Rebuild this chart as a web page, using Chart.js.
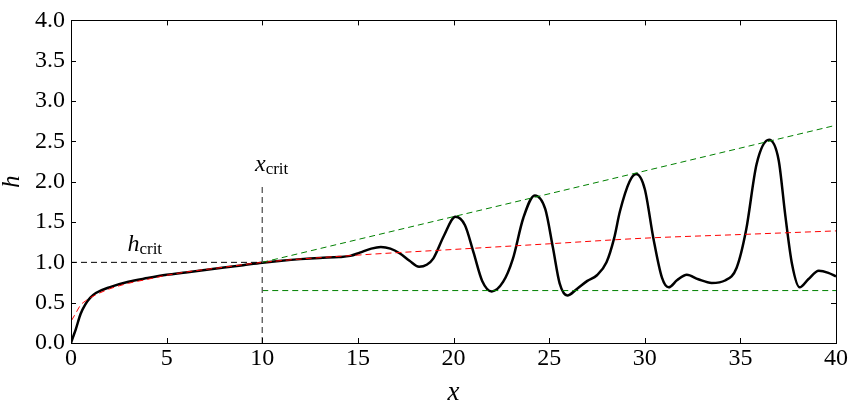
<!DOCTYPE html>
<html>
<head>
<meta charset="utf-8">
<script src="https://cdn.jsdelivr.net/npm/chart.js@4.4.1/dist/chart.umd.min.js"></script>
<style>
  html, body { margin: 0; padding: 0; background: #fff; }
  #wrap { width: 858px; height: 404px; position: relative; }
</style>
</head>
<body>
<div id="wrap"><canvas id="c" width="858" height="404"></canvas></div>
<script>
// ---- data ----
const solutionX = [0, 0.1, 0.25, 0.5, 0.75, 1, 1.3, 2, 3, 4, 5, 6, 7, 8, 9, 10, 11, 12, 13, 14, 14.6, 15.1, 15.7, 16.2, 16.7, 17.2, 17.7, 18.2, 18.6, 18.95, 19.5, 20.1, 20.6, 21.05, 21.5, 22.0, 22.6, 23.1, 23.65, 24.25, 24.8, 25.2, 25.55, 25.95, 26.45, 27.0, 27.5, 28.0, 28.4, 28.7, 29.2, 29.55, 30.0, 30.45, 30.9, 31.25, 31.7, 32.2, 32.8, 33.5, 34.2, 34.8, 35.3, 35.85, 36.5, 37.0, 37.35, 37.7, 38.1, 38.55, 39.1, 39.6, 40];
const solutionH = [0, 0.07, 0.17, 0.36, 0.48, 0.56, 0.62, 0.69, 0.76, 0.805, 0.845, 0.875, 0.905, 0.935, 0.965, 0.995, 1.02, 1.04, 1.055, 1.065, 1.08, 1.12, 1.17, 1.19, 1.17, 1.11, 1.02, 0.945, 0.97, 1.05, 1.33, 1.565, 1.46, 1.12, 0.77, 0.64, 0.76, 1.04, 1.55, 1.83, 1.66, 1.18, 0.74, 0.59, 0.67, 0.77, 0.84, 1.0, 1.3, 1.63, 2.0, 2.095, 1.91, 1.30, 0.81, 0.69, 0.78, 0.845, 0.79, 0.745, 0.775, 0.93, 1.4, 2.22, 2.52, 2.27, 1.58, 0.98, 0.69, 0.79, 0.895, 0.87, 0.825];

const approxX = [0.03, 0.25, 0.5, 0.75, 1, 1.5, 2, 3, 4, 5, 6, 8, 10, 15, 20, 25, 30, 35, 40];
const approxH = [0.28, 0.37, 0.47, 0.52, 0.56, 0.62, 0.67, 0.74, 0.79, 0.84, 0.88, 0.94, 1.0, 1.09, 1.16, 1.23, 1.30, 1.345, 1.39];

const envUpperX = [10, 40];
const envUpperH = [1.0, 2.7];
const envLowerX = [10, 40];
const envLowerH = [0.65, 0.65];
const hCritX = [0, 10];
const hCritH = [1.0, 1.0];
const xCritX = [10, 10];
const xCritH = [0, 1.97];

const xTicks = [0, 5, 10, 15, 20, 25, 30, 35, 40];
const yTicks = [0, 0.5, 1.0, 1.5, 2.0, 2.5, 3.0, 3.5, 4.0];

const labels = [
  { main: 'h', sub: 'crit', x: 2.95, y: 1.14 },
  { main: 'x', sub: 'crit', x: 9.62, y: 2.13 }
];

const pts = (xs, ys) => xs.map((x, i) => ({ x, y: ys[i] }));

const SERIF = '"Liberation Serif", "DejaVu Serif", serif';

// plugin: box frame + inward ticks on all four sides + annotation labels
const framePlugin = {
  id: 'frame',
  afterDatasetsDraw(chart) {
    const { ctx, chartArea: a, scales } = chart;
    ctx.save();
    ctx.strokeStyle = '#000';
    ctx.lineWidth = 1;
    ctx.setLineDash([]);
    ctx.beginPath();
    const L = 5;
    xTicks.forEach(v => {
      const px = Math.round(scales.x.getPixelForValue(v)) + 0.5;
      ctx.moveTo(px, a.bottom); ctx.lineTo(px, a.bottom - L);
      ctx.moveTo(px, a.top); ctx.lineTo(px, a.top + L);
    });
    yTicks.forEach(v => {
      const py = Math.round(scales.y.getPixelForValue(v)) + 0.5;
      ctx.moveTo(a.left, py); ctx.lineTo(a.left + L, py);
      ctx.moveTo(a.right, py); ctx.lineTo(a.right - L, py);
    });
    ctx.stroke();
    ctx.strokeRect(Math.round(a.left) + 0.5, Math.round(a.top) + 0.5,
                   Math.round(a.right - a.left), Math.round(a.bottom - a.top));
    // labels
    ctx.fillStyle = '#000';
    ctx.textBaseline = 'alphabetic';
    labels.forEach(l => {
      const px = scales.x.getPixelForValue(l.x);
      const py = scales.y.getPixelForValue(l.y);
      ctx.font = 'italic 24px ' + SERIF;
      ctx.textAlign = 'left';
      ctx.fillText(l.main, px, py);
      const w = ctx.measureText(l.main).width;
      ctx.font = '17px ' + SERIF;
      ctx.fillText(l.sub, px + w, py + 3);
    });
    ctx.restore();
  }
};

const dashed = (data, color, extra) => Object.assign({
  data, borderColor: color, borderWidth: 1, borderDash: [6, 4],
  pointRadius: 0, fill: false, tension: 0
}, extra || {});

new Chart(document.getElementById('c'), {
  type: 'line',
  data: {
    datasets: [
      dashed(pts(hCritX, hCritH), '#000000'),
      dashed(pts(xCritX, xCritH), '#555555', { borderWidth: 1.3 }),
      dashed(pts(envUpperX, envUpperH), '#008000'),
      dashed(pts(envLowerX, envLowerH), '#008000'),
      dashed(pts(approxX, approxH), '#ff0000', { cubicInterpolationMode: 'monotone' }),
      {
        data: pts(solutionX, solutionH),
        borderColor: '#000000', borderWidth: 2.5,
        pointRadius: 0, fill: false,
        cubicInterpolationMode: 'monotone'
      }
    ]
  },
  options: {
    responsive: false,
    animation: false,
    devicePixelRatio: 1,
    layout: { padding: { left: 0, right: 22, top: 16, bottom: 0 } },
    plugins: { legend: { display: false }, tooltip: { enabled: false } },
    scales: {
      x: {
        type: 'linear', min: 0, max: 40,
        afterBuildTicks: s => { s.ticks = xTicks.map(v => ({ value: v })); },
        afterFit: s => { s.height = 61; },
        grid: { display: false, drawTicks: false },
        border: { display: false },
        ticks: { color: '#000', font: { family: SERIF, size: 24, lineHeight: 1 }, padding: 4, maxRotation: 0 },
        title: { display: true, text: 'x', color: '#000',
                 font: { family: SERIF, size: 27, style: 'italic', lineHeight: 0.8 }, padding: { top: 0, bottom: 0 } }
      },
      y: {
        type: 'linear', min: 0, max: 4,
        afterBuildTicks: s => { s.ticks = yTicks.map(v => ({ value: v })); },
        afterFit: s => { s.width = 71; },
        grid: { display: false, drawTicks: false },
        border: { display: false },
        ticks: { color: '#000', font: { family: SERIF, size: 24 }, padding: 6,
                 callback: v => Number(v).toFixed(1) },
        title: { display: true, text: 'h', color: '#000',
                 font: { family: SERIF, size: 25, style: 'italic', lineHeight: 1 }, padding: { top: 0, bottom: 0 } }
      }
    }
  },
  plugins: [framePlugin]
});
</script>
</body>
</html>
